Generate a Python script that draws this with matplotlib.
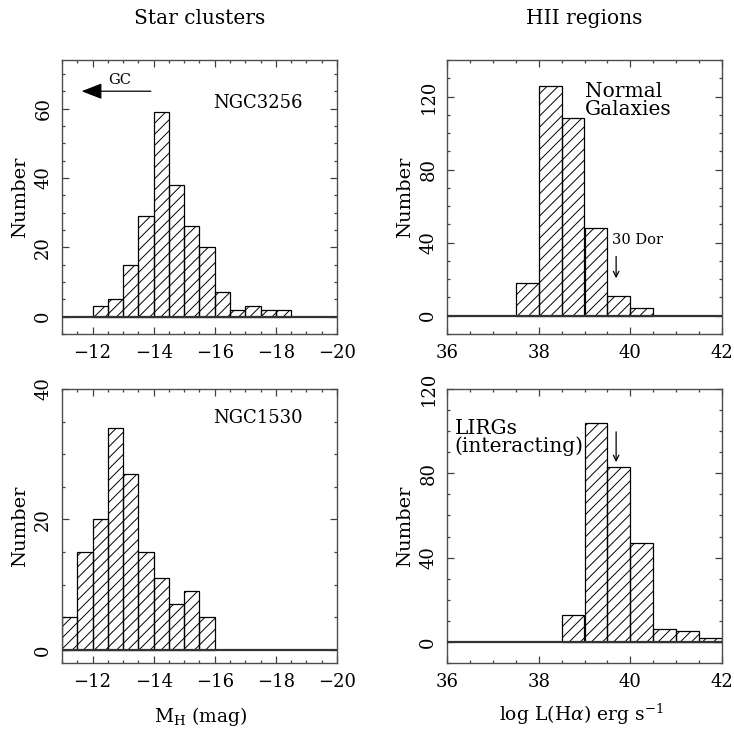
import matplotlib
matplotlib.use("Agg")
import matplotlib.pyplot as plt
from matplotlib.ticker import MultipleLocator
import numpy as np

# ---------------- data ----------------
# Star clusters (bins of 0.5 mag, left edge given)
ngc3256_bin_start = [-12.0, -12.5, -13.0, -13.5, -14.0, -14.5, -15.0, -15.5,
                     -16.0, -16.5, -17.0, -17.5, -18.0]
ngc3256_counts = [3, 5, 15, 29, 59, 38, 26, 20, 7, 2, 3, 2, 2]

ngc1530_bin_start = [-11.0, -11.5, -12.0, -12.5, -13.0, -13.5, -14.0, -14.5,
                     -15.0, -15.5]
ngc1530_counts = [5, 15, 20, 34, 27, 15, 11, 7, 9, 5]

# HII regions (bins of 0.5 dex, left edge given)
normal_bin_start = [37.5, 38.0, 38.5, 39.0, 39.5, 40.0]
normal_counts = [18, 126, 108, 48, 11, 4]

lirg_bin_start = [38.5, 39.0, 39.5, 40.0, 40.5, 41.0, 41.5]
lirg_counts = [13, 104, 83, 47, 6, 5, 2]

mag_bin_width = -0.5
lum_bin_width = 0.5

# ---------------- style ----------------
plt.rcParams['font.family'] = ['DejaVu Serif']
plt.rcParams['mathtext.fontset'] = 'dejavuserif'
plt.rcParams['hatch.linewidth'] = 0.7
plt.rcParams['axes.unicode_minus'] = True

W = 734.0
fig = plt.figure(figsize=(7.34, 7.34), dpi=100)

def px_axes(x0, y0, x1, y1):
    return fig.add_axes([x0 / W, 1 - y1 / W, (x1 - x0) / W, (y1 - y0) / W])

ax_tl = px_axes(62, 60, 337, 334)
ax_tr = px_axes(447, 60, 722, 334)
ax_bl = px_axes(62, 389, 337, 663)
ax_br = px_axes(447, 389, 722, 663)

def style(ax, xlim, ylim, xmaj, xmin, ymaj, ymin):
    ax.set_xlim(*xlim)
    ax.set_ylim(*ylim)
    ax.xaxis.set_major_locator(MultipleLocator(xmaj))
    ax.xaxis.set_minor_locator(MultipleLocator(xmin))
    ax.yaxis.set_major_locator(MultipleLocator(ymaj))
    ax.yaxis.set_minor_locator(MultipleLocator(ymin))
    ax.tick_params(which='both', direction='in', top=True, right=True,
                   color='0.25', width=0.9, labelsize=13, pad=7)
    ax.tick_params(which='major', length=5)
    ax.tick_params(which='minor', length=2.5)
    ax.tick_params(axis='y', labelrotation=90)
    for lab in ax.get_yticklabels():
        lab.set_va('center')
    for sp in ax.spines.values():
        sp.set_color('0.3')
        sp.set_linewidth(1.0)
    ax.axhline(0, color='0.2', lw=1.6, zorder=3)
    ax.set_ylabel('Number', fontsize=14, labelpad=4)

def bars(ax, starts, counts, width):
    ax.bar(starts, counts, width=width, align='edge', fill=False,
           edgecolor='black', linewidth=0.9, hatch='///', zorder=2)

bars(ax_tl, ngc3256_bin_start, ngc3256_counts, mag_bin_width)
bars(ax_bl, ngc1530_bin_start, ngc1530_counts, mag_bin_width)
bars(ax_tr, normal_bin_start, normal_counts, lum_bin_width)
bars(ax_br, lirg_bin_start, lirg_counts, lum_bin_width)

style(ax_tl, (-11, -20), (-5, 74), 2, 0.5, 20, 5)
style(ax_bl, (-11, -20), (-2, 40), 2, 0.5, 20, 5)
style(ax_tr, (36, 42), (-10, 140), 2, 0.5, 40, 10)
style(ax_br, (36, 42), (-10, 120), 2, 0.5, 40, 10)

# annotations
ax_tl.text(-17.4, 61.5, 'NGC3256', fontsize=13, ha='center', va='center')
ax_tl.annotate('', xy=(-11.55, 65), xytext=(-14.0, 65),
               arrowprops=dict(arrowstyle='-|>,head_length=0.9,head_width=0.35',
                               color='black', lw=0.9, mutation_scale=14))
ax_tl.text(-12.9, 68.3, 'GC', fontsize=10.5, ha='center', va='center')

ax_bl.text(-17.4, 35.6, 'NGC1530', fontsize=13, ha='center', va='center')

ax_tr.text(39.0, 128, 'Normal\nGalaxies', fontsize=14.5, ha='left', va='top',
           linespacing=0.95)
ax_tr.text(39.6, 41.5, '30 Dor', fontsize=10.5, ha='left', va='center')
ax_tr.annotate('', xy=(39.69, 19), xytext=(39.69, 34),
               arrowprops=dict(arrowstyle='->', color='black', lw=0.9))

ax_br.text(36.17, 106, 'LIRGs\n(interacting)', fontsize=14.5, ha='left',
           va='top', linespacing=0.95)
ax_br.annotate('', xy=(39.69, 84), xytext=(39.69, 101),
               arrowprops=dict(arrowstyle='->', color='black', lw=0.9))

# titles and x labels
fig.text(199.5 / W, 1 - 18 / W, 'Star clusters', fontsize=14.5,
         ha='center', va='center')
fig.text(584.5 / W, 1 - 18 / W, 'HII regions', fontsize=14.5,
         ha='center', va='center')
fig.text(201 / W, 1 - 716 / W, r'M$_{\rm H}$ (mag)', fontsize=13.5,
         ha='center', va='center')
fig.text(581 / W, 1 - 714 / W, r'log L(H$\alpha$) erg s$^{-1}$', fontsize=13.5,
         ha='center', va='center')

fig.savefig('out.png', dpi=100)
